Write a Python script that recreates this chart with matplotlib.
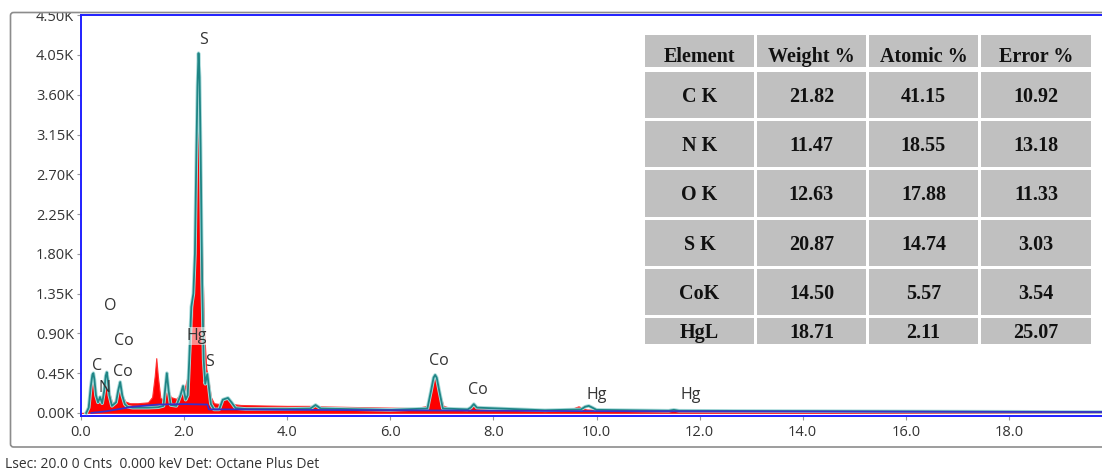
"""
EDS spectrum with element quantification table.
"""

import matplotlib
matplotlib.use('Agg')
import matplotlib.pyplot as plt
import matplotlib.patches as patches

# ---- spectrum (energy keV, counts) ----
raw_keV = [0.00, 0.10, 0.13, 0.17, 0.21, 0.25, 0.29, 0.33, 0.37, 0.41, 0.45,
           0.48, 0.51, 0.55, 0.60, 0.66, 0.72, 0.76, 0.80, 0.86, 0.95, 1.10,
           1.30, 1.38, 1.43, 1.46, 1.49, 1.54, 1.60, 1.65, 1.69, 1.74, 1.85,
           1.93, 1.97, 2.02, 2.07, 2.12, 2.16, 2.20, 2.23, 2.25, 2.27, 2.285,
           2.30, 2.32, 2.35, 2.39, 2.43, 2.46, 2.49, 2.52, 2.58, 2.70, 2.75,
           2.80, 2.87, 2.95, 3.10, 3.50, 4.00, 4.50, 4.60, 5.50, 6.50, 6.72,
           6.79, 6.84, 6.87, 6.91, 6.96, 7.03, 7.20, 7.50, 7.57, 7.62, 7.68,
           7.75, 8.00, 9.50, 9.58, 9.65, 9.72, 9.80, 10.0, 11.0, 12.0, 16.0,
           20.0]
raw_cnts = [0, 0, 90, 220, 320, 380, 200, 130, 150, 120, 260,
            380, 400, 230, 120, 130, 220, 270, 200, 130, 110, 110,
            120, 180, 420, 620, 420, 170, 150, 220, 270, 180, 160,
            220, 250, 300, 420, 700, 1100, 1900, 2800, 3500, 3950, 4000,
            3700, 3000, 1800, 900, 500, 420, 300, 180, 110, 100, 150,
            180, 150, 100, 90, 85, 80, 80, 75, 65, 55, 80,
            220, 380, 430, 380, 220, 80, 50, 45, 70, 100, 70,
            45, 40, 40, 60, 75, 60, 40, 35, 30, 28, 24,
            20]

fit_keV = [0.10, 0.15, 0.19, 0.22, 0.24, 0.26, 0.29, 0.33, 0.37, 0.41, 0.45,
           0.48, 0.50, 0.52, 0.55, 0.60, 0.68, 0.72, 0.76, 0.80, 0.85, 0.90,
           1.00, 1.30, 1.50, 1.60, 1.63, 1.665, 1.70, 1.74, 1.85, 1.93, 1.98,
           2.03, 2.07, 2.10, 2.14, 2.18, 2.21, 2.24, 2.26, 2.28, 2.30, 2.32,
           2.35, 2.38, 2.41, 2.45, 2.48, 2.52, 2.58, 2.68, 2.75, 2.85, 2.92,
           3.00, 3.20, 4.00, 4.45, 4.55, 4.65, 6.00, 6.72, 6.79, 6.84, 6.87,
           6.90, 6.95, 7.02, 7.50, 7.56, 7.62, 7.68, 9.00, 9.70, 9.78, 9.85,
           9.92, 10.0, 11.4, 11.5, 11.6, 20.0]
fit_cnts = [0, 60, 300, 430, 450, 380, 200, 120, 180, 110, 250,
            420, 460, 380, 200, 80, 120, 250, 350, 200, 100, 70,
            60, 60, 65, 80, 250, 450, 250, 90, 80, 200, 305,
            150, 200, 600, 1200, 1350, 1800, 3000, 3700, 4070, 3800, 3000,
            1500, 600, 330, 440, 300, 100, 40, 40, 150, 170, 120,
            55, 45, 45, 50, 90, 50, 35, 50, 250, 400, 430,
            400, 250, 50, 40, 60, 100, 60, 30, 40, 70, 80,
            60, 35, 25, 35, 25, 10]

bkg_keV = [0.20, 0.50, 0.80, 1.00, 1.50, 2.00, 2.45, 2.48, 3.00, 4.00, 6.00,
           8.00, 10.0, 20.0]
bkg_cnts = [0, 20, 50, 70, 95, 100, 95, 40, 40, 35, 30, 25, 20, 10]

# peak labels
label_text = ['S', 'O', 'Co', 'Hg', 'S', 'C', 'N', 'Co', 'Co', 'Co', 'Hg', 'Hg']
label_keV = [2.37, 0.56, 0.83, 2.25, 2.50, 0.31, 0.45, 0.82, 6.95, 7.69, 10.0, 11.83]
label_cnts = [4220, 1210, 815, 870, 577, 530, 283, 464, 590, 260, 204, 204]

# quantification table
elements = ['C K', 'N K', 'O K', 'S K', 'CoK', 'HgL']
weight_pct = ['21.82', '11.47', '12.63', '20.87', '14.50', '18.71']
atomic_pct = ['41.15', '18.55', '17.88', '14.74', '5.57', '2.11']
error_pct = ['10.92', '13.18', '11.33', '3.03', '3.54', '25.07']
headers = ['Element', 'Weight %', 'Atomic %', 'Error %']

W, H = 1102, 472
fig = plt.figure(figsize=(W / 100, H / 100), dpi=100)
plt.rcParams['font.family'] = ['Open Sans', 'DejaVu Sans']

# main spectrum axes (pixel box -> figure fraction)
ax_l, ax_r, ax_t, ax_b = 81, 1112, 15.2, 415.6
ax = fig.add_axes([ax_l / W, 1 - ax_b / H, (ax_r - ax_l) / W, (ax_b - ax_t) / H])
ax.fill_between(raw_keV, 0, raw_cnts, color='#ff0000', linewidth=0.8,
                edgecolor='#ff3030', zorder=2)
ax.plot(fit_keV, fit_cnts, color='#a8dada', linewidth=2.6, zorder=3)
ax.plot(fit_keV, fit_cnts, color='#1f8585', linewidth=1.3, zorder=4)
ax.plot(bkg_keV, bkg_cnts, color='#3a2fc8', linewidth=1.3, zorder=5)

for t, x, y in zip(label_text, label_keV, label_cnts):
    kw = {}
    if t == 'Hg' and x < 3:
        kw['bbox'] = dict(boxstyle='square,pad=0.05', facecolor='white',
                          alpha=0.55, edgecolor='none')
    ax.text(x, y, t, ha='center', va='center', fontsize=11.5, color='#333333',
            zorder=6, **kw)

ax.set_xlim(0, 20.0)
ax.set_ylim(-30, 4500)
ax.set_xticks([0, 2, 4, 6, 8, 10, 12, 14, 16, 18])
ax.set_xticklabels([f'{v:.1f}' for v in range(0, 20, 2)])
yt = [0, 450, 900, 1350, 1800, 2250, 2700, 3150, 3600, 4050, 4500]
ax.set_yticks(yt)
ax.set_yticklabels([f'{v / 1000:.2f}K' for v in yt])
ax.tick_params(axis='both', labelsize=10.5, labelcolor='#333333',
               color='#999999', length=3, width=0.8, pad=2)
ax.tick_params(axis='x', pad=4)
for s in ax.spines.values():
    s.set_color('#2020ff')
    s.set_linewidth(1.4)

# overlay in pixel coordinates for frame, table and footer
ov = fig.add_axes([0, 0, 1, 1])
ov.set_xlim(0, W)
ov.set_ylim(H, 0)
ov.axis('off')
ov.patch.set_alpha(0)

ov.add_patch(patches.Rectangle((0, 0), W, 12.5, facecolor='white',
                               edgecolor='none', zorder=1))
ov.add_patch(patches.FancyBboxPatch((10.5, 12.5), 1110, 434.5,
                                    boxstyle='round,pad=0,rounding_size=3',
                                    facecolor='none', edgecolor='#8c8c8c',
                                    linewidth=1.2, zorder=2))

col_x = [645, 757, 869, 981]
col_w = [109, 109, 109, 110]
row_y = [35, 72, 121, 170, 220, 269, 318]
row_h = [32, 46, 46, 47, 46, 46, 26]
rows = [headers] + [list(r) for r in zip(elements, weight_pct, atomic_pct, error_pct)]
for i, row in enumerate(rows):
    for j, txt in enumerate(row):
        ov.add_patch(patches.Rectangle((col_x[j], row_y[i]), col_w[j], row_h[i],
                                       facecolor='#c0c0c0', edgecolor='none',
                                       zorder=3))
        yc = row_y[i] + row_h[i] / 2 + (6 if i == 0 else 2)
        ov.text(col_x[j] + col_w[j] / 2, yc, txt, ha='center', va='center',
                fontsize=14.5, fontweight='bold', family='Liberation Serif',
                color='#111111', zorder=4)

ov.text(5, 465, 'Lsec: 20.0 0 Cnts  0.000 keV Det: Octane Plus Det',
        ha='left', va='center', fontsize=10, color='#333333')

fig.savefig('out.png', dpi=100)
